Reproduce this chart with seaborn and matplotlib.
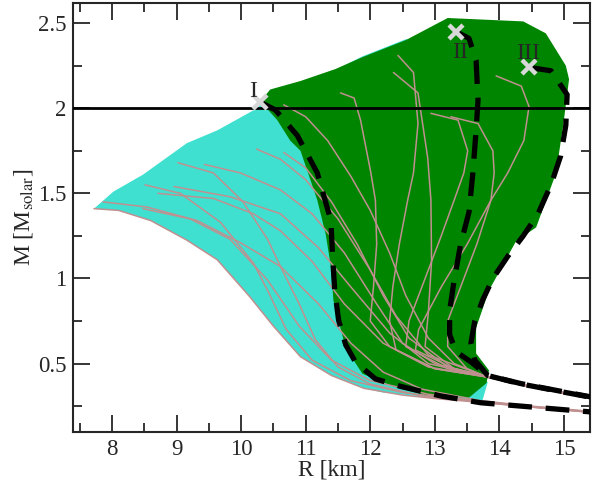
import numpy as np
import pandas as pd
import matplotlib
matplotlib.use('Agg')
import matplotlib.pyplot as plt
from matplotlib.ticker import MultipleLocator
import seaborn as sns

# область (бирюзовая) - граница R, M
cyan_r = [7.72, 8.02, 8.48, 9.16, 9.63, 10.25, 10.45, 10.92, 11.46, 11.88, 12.55, 12.75,
          13.3, 13.4, 13.5, 13.6, 13.82, 13.74, 12.94, 12.2, 11.9, 11.4, 10.92, 10.5, 10.14,
          9.63, 9.16, 8.6, 8.1]
cyan_m = [1.41, 1.51, 1.61, 1.795, 1.87, 2.0, 2.09, 2.14, 2.225, 2.305, 2.405, 2.40,
          2.3, 1.5, 0.8, 0.5, 0.39, 0.285, 0.30, 0.33, 0.355, 0.43, 0.54, 0.72, 0.89,
          1.11, 1.225, 1.34, 1.40]

# область (зелёная)
green_r = [10.30, 10.45, 10.92, 11.46, 11.88, 12.55, 13.2, 14.37, 14.72, 15.03, 15.08,
           15.0, 14.88, 14.57, 14.26, 13.84, 13.64, 13.64, 13.84, 13.80, 13.53, 12.9,
           12.4, 11.88, 11.62, 11.43, 11.39, 11.31, 11.18, 10.92, 10.76, 10.56]
green_m = [2.04, 2.11, 2.16, 2.23, 2.30, 2.40, 2.53, 2.51, 2.44, 2.25, 2.17,
           1.93, 1.62, 1.30, 1.22, 0.93, 0.71, 0.56, 0.46, 0.385, 0.30, 0.31,
           0.36, 0.44, 0.59, 0.87, 1.07, 1.26, 1.46, 1.75, 1.81, 1.93]

# тонкие кривые M(R)
t1 = [(7.72, 1.41), (8.1, 1.40), (8.6, 1.34), (9.16, 1.225), (9.63, 1.11), (10.14, 0.89),
      (10.5, 0.72), (10.92, 0.54), (11.4, 0.43), (11.9, 0.355), (12.5, 0.315), (13.0, 0.295),
      (13.71, 0.272), (14.5, 0.245), (15.45, 0.212)]
t2 = [(7.86, 1.45), (8.54, 1.42), (9.32, 1.34), (9.99, 1.21), (10.61, 1.07), (11.2, 0.85),
      (11.7, 0.62), (12.2, 0.45), (12.8, 0.35), (13.71, 0.282), (14.5, 0.25), (15.45, 0.218)]
t3 = [(8.48, 1.41), (9.21, 1.35), (9.83, 1.23), (10.41, 0.99), (10.9, 0.72), (11.4, 0.52),
      (12.0, 0.40), (12.9, 0.32), (13.71, 0.278), (14.5, 0.248), (15.45, 0.216)]
t4 = [(8.51, 1.55), (9.06, 1.50), (9.68, 1.33), (10.19, 1.09), (10.41, 0.93), (10.7, 0.70),
      (11.1, 0.52), (11.7, 0.40), (12.5, 0.33), (13.71, 0.276), (14.5, 0.246), (15.45, 0.214)]
t5 = [(8.71, 1.50), (9.57, 1.47), (10.19, 1.38), (10.61, 1.28), (11.1, 1.10), (11.6, 0.85),
      (12.2, 0.62), (12.9, 0.48), (13.82, 0.422), (14.34, 0.376), (14.96, 0.331), (15.45, 0.301)]
t6 = [(8.96, 1.54), (9.83, 1.48), (10.61, 1.38), (11.2, 1.18), (11.7, 0.95), (12.3, 0.68),
      (12.9, 0.50), (13.82, 0.42), (14.34, 0.374), (14.96, 0.329), (15.45, 0.299)]
t7 = [(9.02, 1.68), (9.57, 1.62), (10.03, 1.45), (10.41, 1.23), (10.61, 1.07), (10.9, 0.85),
      (11.15, 0.64), (11.5, 0.48), (12.0, 0.38), (12.8, 0.31), (13.71, 0.274), (14.5, 0.244),
      (15.45, 0.213)]
t8 = [(9.43, 1.67), (9.99, 1.62), (10.61, 1.52), (11.1, 1.38), (11.6, 1.15), (12.1, 0.85),
      (12.5, 0.62), (13.0, 0.50), (13.82, 0.424), (14.34, 0.378), (14.96, 0.333), (15.45, 0.303)]
t9 = [(10.24, 1.76), (10.61, 1.70), (11.0, 1.58), (11.5, 1.35), (12.0, 1.05), (12.4, 0.78),
      (12.9, 0.55), (13.82, 0.421), (14.34, 0.375), (14.96, 0.33), (15.45, 0.30)]
g1 = [(10.66, 2.02), (11.0, 1.95), (11.34, 1.81), (11.7, 1.60), (12.0, 1.40), (12.3, 1.15),
      (12.55, 0.90), (12.9, 0.65), (13.3, 0.50), (13.82, 0.42), (14.34, 0.373), (14.96, 0.328),
      (15.45, 0.298)]
g2 = [(10.66, 1.74), (11.0, 1.65), (11.4, 1.45), (11.8, 1.20), (12.2, 0.90), (12.6, 0.65),
      (13.2, 0.48), (13.82, 0.423), (14.34, 0.377), (14.96, 0.332), (15.45, 0.302)]
g3 = [(11.54, 2.09), (11.75, 2.06), (11.85, 1.93), (12.01, 1.62), (12.08, 1.46), (12.1, 1.2),
      (12.05, 0.95), (12.0, 0.75), (12.3, 0.60), (13.0, 0.47), (13.82, 0.42), (14.34, 0.374),
      (14.96, 0.33), (15.45, 0.30)]
g4 = [(12.43, 2.31), (12.67, 2.21), (12.74, 1.91), (12.67, 1.62), (12.58, 1.46), (12.45, 1.2),
      (12.35, 0.95), (12.3, 0.75), (12.4, 0.58), (13.0, 0.47), (13.82, 0.421), (14.34, 0.375),
      (14.96, 0.331), (15.45, 0.301)]
g5 = [(12.36, 2.21), (12.74, 2.09), (12.89, 1.71), (12.94, 1.46), (12.95, 1.1), (12.9, 0.8),
      (12.85, 0.6), (13.3, 0.47), (13.82, 0.42), (14.34, 0.374), (14.96, 0.33), (15.45, 0.30)]
g6 = [(12.94, 1.97), (13.36, 1.93), (13.51, 1.75), (13.45, 1.62), (13.30, 1.46), (13.1, 1.25),
      (12.85, 1.0), (12.6, 0.75), (12.55, 0.6), (13.2, 0.47), (13.82, 0.422), (14.34, 0.376),
      (14.96, 0.332), (15.45, 0.302)]
g7 = [(13.25, 1.95), (13.67, 1.91), (13.90, 1.75), (13.92, 1.62), (13.87, 1.46), (13.65, 1.2),
      (13.4, 0.95), (13.2, 0.75), (13.2, 0.6), (13.5, 0.47), (13.82, 0.42), (14.34, 0.374),
      (14.96, 0.33), (15.45, 0.30)]
g8 = [(13.95, 2.19), (14.34, 2.13), (14.46, 2.01), (14.38, 1.81), (14.13, 1.62), (13.87, 1.46),
      (13.5, 1.2), (13.1, 0.95), (12.75, 0.7), (12.7, 0.58), (13.3, 0.47), (13.82, 0.423),
      (14.34, 0.377), (14.96, 0.332), (15.45, 0.302)]
thin_curves = [t1, t2, t3, t4, t5, t6, t7, t8, t9, g1, g2, g3, g4, g5, g6, g7, g8]

# жирные пунктирные кривые I, II, III
d1 = [(10.30, 2.035), (10.53, 1.99), (10.87, 1.84), (11.18, 1.62), (11.39, 1.34), (11.42, 1.11),
      (11.45, 0.93), (11.51, 0.755), (11.62, 0.61), (11.77, 0.51), (12.08, 0.41), (12.47, 0.366),
      (13.09, 0.31), (13.71, 0.27), (14.34, 0.25), (15.45, 0.215)]
d2 = [(13.33, 2.45), (13.53, 2.41), (13.64, 2.28), (13.67, 2.05), (13.64, 1.87), (13.59, 1.62),
      (13.53, 1.39), (13.40, 1.20), (13.30, 0.99), (13.23, 0.81), (13.23, 0.67), (13.33, 0.57),
      (13.56, 0.51), (13.82, 0.43), (14.34, 0.38), (14.96, 0.335), (15.45, 0.30)]
d3 = [(14.46, 2.24), (14.80, 2.22), (15.05, 2.08), (15.03, 1.90), (14.95, 1.72), (14.80, 1.55),
      (14.60, 1.38), (14.37, 1.25), (14.13, 1.13), (13.90, 1.00), (13.75, 0.88), (13.62, 0.75),
      (13.56, 0.62), (13.62, 0.52), (13.82, 0.43), (14.34, 0.382), (14.96, 0.337), (15.45, 0.302)]
dashed_curves = [d1, d2, d3]

# отмеченные точки
mark_r = [10.30, 13.33, 14.46]
mark_m = [2.035, 2.45, 2.24]
mark_labels = ['I', 'II', 'III']
label_r = [10.19, 13.39, 14.44]
label_m = [2.10, 2.33, 2.32]

x_ticks = [8, 9, 10, 11, 12, 13, 14, 15]
y_ticks = [0.5, 1, 1.5, 2, 2.5]
y_tick_labels = ['0.5', '1', '1.5', '2', '2.5']

sns.set_style('ticks')
plt.rcParams['font.family'] = ['Liberation Serif', 'DejaVu Serif']
plt.rcParams['mathtext.fontset'] = 'stix'

fig = plt.figure(figsize=(5.95, 4.88), dpi=100)
ax = fig.add_axes([0.1232, 0.1154, 0.8679, 0.8791])

ax.fill(cyan_r, cyan_m, color='#40E0D0', lw=0, zorder=1)
ax.fill(green_r, green_m, color='#008500', lw=0, zorder=2)

thin_df = pd.DataFrame([(i, r, m) for i, c in enumerate(thin_curves) for r, m in c],
                       columns=['curve', 'R', 'M'])
sns.lineplot(data=thin_df, x='R', y='M', units='curve', estimator=None, sort=False,
             color='#c09090', lw=1.1, ax=ax, zorder=3)

ax.axhline(2.0, color='black', lw=2.0, zorder=4)

dash_df = pd.DataFrame([(i, r, m) for i, c in enumerate(dashed_curves) for r, m in c],
                       columns=['curve', 'R', 'M'])
for i, grp in dash_df.groupby('curve'):
    ax.plot(grp['R'], grp['M'], color='black', lw=3.8, dashes=(4.5, 2.6),
            dash_capstyle='butt', zorder=5)

ax.plot(mark_r, mark_m, ls='none', marker='x', ms=10, mew=3.2, color='#d8d8d8', zorder=6)
for r, m, s in zip(label_r, label_m, mark_labels):
    ax.text(r, m, s, fontsize=17, ha='center', va='center', zorder=7)

ax.set_xlim(7.4, 15.4)
ax.set_ylim(0.1, 2.62)
ax.set_xticks(x_ticks)
ax.set_yticks(y_ticks)
ax.set_yticklabels(y_tick_labels)
ax.xaxis.set_minor_locator(MultipleLocator(0.5))
ax.yaxis.set_minor_locator(MultipleLocator(0.25))
ax.tick_params(which='both', direction='in', top=True, right=True, width=1.3, labelsize=16.5)
ax.tick_params(which='major', length=12, pad=5)
ax.tick_params(which='minor', length=6.5)
for s in ax.spines.values():
    s.set_linewidth(1.5)

ax.set_xlabel('R [km]', fontsize=17, labelpad=0)
ax.set_ylabel(r'M [M$_{\rm solar}$]', fontsize=17, labelpad=2)

fig.savefig('out.png', dpi=100)
